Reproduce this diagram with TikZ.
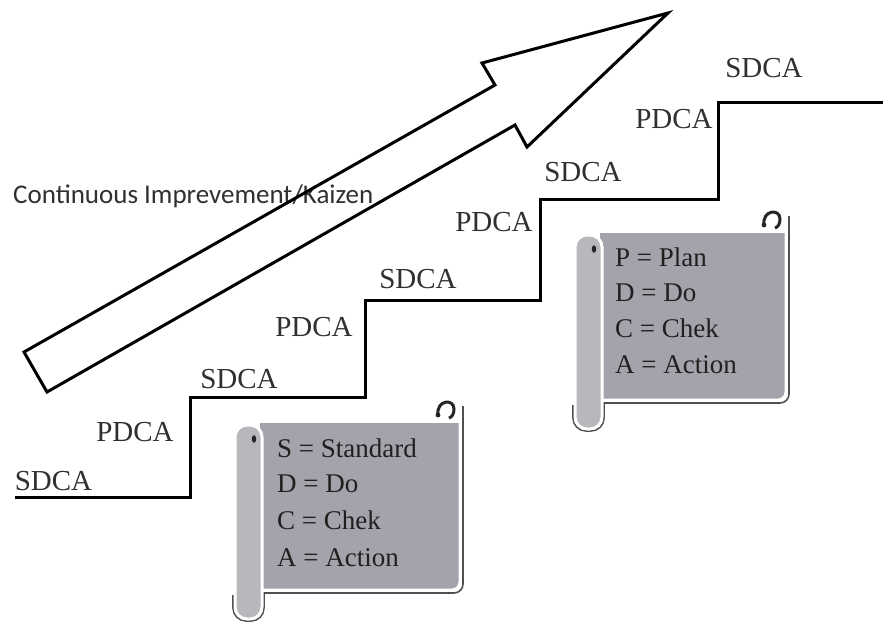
\documentclass[tikz,border=0pt]{standalone}
\usepackage{fontspec}
\setmainfont{Liberation Serif}
\newfontfamily\calibrifont{Carlito}
\definecolor{labelgray}{HTML}{303030}
\definecolor{textdark}{HTML}{202020}
\definecolor{bodygray}{RGB}{164,162,171}
\definecolor{rollgray}{RGB}{184,184,188}
\definecolor{shadowgray}{HTML}{505050}
\newcommand{\myscroll}[3]{%
\begin{scope}[shift={(#1,#2)}]
 \draw[shadowgray, line width=1.6, rounded corners=9] (#3+3,6) -- (#3+3,193) -- (28,193);
 \draw[shadowgray, line width=1.6, rounded corners=13] (29,193) -- (29,221) -- (-2,221) -- (-2,195);
 \fill[bodygray] (25,23) rectangle (#3,182);
 \fill[bodygray] (25,182) rectangle (#3-8,190);
 \fill[bodygray] (#3-8,182) circle (8);
 \draw[white, line width=3, rounded corners=8] (#3,4) -- (#3,190) -- (26,190);
 \draw[fill=rollgray, draw=white, line width=3, rounded corners=12] (0,25) rectangle (27,219);
 \fill[black!85] (19,39) ellipse (2.2 and 3.8);
 \draw[black!85, line width=3] (#3-22,15) .. controls (#3-24,0) and (#3-6,-2) .. (#3-6,9) .. controls (#3-6,14) and (#3-8,17) .. (#3-11,18);
 \fill[black!85] (#3-22,15) circle (2.4);
\end{scope}}
\tikzset{
  stairlabel/.style={inner sep=0, anchor=base, text=labelgray, font=\fontsize{29}{30}\selectfont},
  scrolltext/.style={inner sep=0, anchor=base west, text=textdark, font=\fontsize{27}{28}\selectfont},
  stair/.style={line width=3, line join=miter, draw=black},
  bigarrow/.style={line width=3, line join=miter, draw=black}
}
\begin{document}
\begin{tikzpicture}[x=1pt,y=-1pt]
\useasboundingbox (0,0) rectangle (883,622);
\fill[white] (0,0) rectangle (883,622);

% stairs
\coordinate (s0) at (15,497);
\coordinate (s1) at (190,497);
\coordinate (s2) at (190,397);
\coordinate (s3) at (365,397);
\coordinate (s4) at (365,300);
\coordinate (s5) at (540,300);
\coordinate (s6) at (540,199);
\coordinate (s7) at (718,199);
\coordinate (s8) at (718,102);
\coordinate (s9) at (883,102);
\draw[stair] (s0) -- (s1) -- (s2) -- (s3) -- (s4) -- (s5) -- (s6) -- (s7) -- (s8) -- (s9);

% labels
\node[stairlabel] (l1) at (53.5,490) {SDCA};
\node[stairlabel] (l2) at (135,441) {PDCA};
\node[stairlabel] (l3) at (239,388) {SDCA};
\node[stairlabel] (l4) at (314,336) {PDCA};
\node[stairlabel] (l5) at (418,288) {SDCA};
\node[stairlabel] (l6) at (494,231) {PDCA};
\node[stairlabel] (l7) at (583,181) {SDCA};
\node[stairlabel] (l8) at (674,128) {PDCA};
\node[stairlabel] (l9) at (764,77) {SDCA};

% caption text (under the arrow)
\node[inner sep=0, anchor=base west, text=labelgray, font=\calibrifont\fontsize{27}{28}\selectfont] (ci) at (13,203) {Continuous Imprevement/Kaizen};

% big arrow (outline only)
\coordinate (a1) at (24,352);
\coordinate (a2) at (495,85);
\coordinate (a3) at (482,63);
\coordinate (a4) at (668,13);
\coordinate (a5) at (527,147);
\coordinate (a6) at (515,125);
\coordinate (a7) at (47,392);
\draw[bigarrow] (a1) -- (a2) -- (a3) -- (a4) -- (a5) -- (a6) -- (a7) -- cycle;

% scrolls
\myscroll{235}{400}{225}
\myscroll{575}{210}{211}

\node[scrolltext] (t1) at (277,457) {S = Standard};
\node[scrolltext] (t2) at (277,492) {D = Do};
\node[scrolltext] (t3) at (277,529) {C = Chek};
\node[scrolltext] (t4) at (277,566) {A = Action};

\node[scrolltext] (u1) at (615,266) {P = Plan};
\node[scrolltext] (u2) at (615,301) {D = Do};
\node[scrolltext] (u3) at (615,337) {C = Chek};
\node[scrolltext] (u4) at (615,373) {A = Action};
\end{tikzpicture}
\end{document}
